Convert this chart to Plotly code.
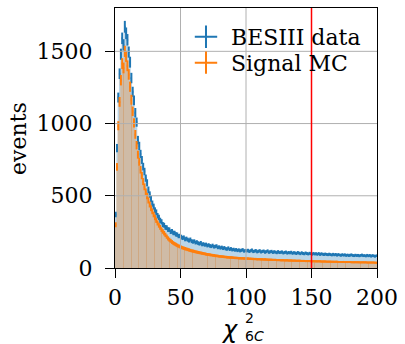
import numpy as np
import plotly.graph_objects as go

# ---------------- data ----------------
BIN_LO, BIN_HI, BIN_W = 0, 200, 1
CUT = 150
XTICKS = [0, 50, 100, 150, 200]
YTICKS = [0, 500, 1000, 1500]

data_counts = [
    370, 830, 1180, 1345, 1480, 1590, 1545, 1670, 1625, 1580,
    1495, 1425, 1315, 1220, 1160, 1075, 1010, 885, 845, 790,
    748, 702, 668, 622, 590, 541, 508, 478, 446, 425,
    400, 386, 362, 350, 330, 320, 301, 296, 281, 279,
    266, 265, 251, 254, 243, 242, 233, 231, 221, 222,
    216, 208, 211, 199, 203, 196, 190, 197, 186, 182,
    185, 176, 179, 172, 168, 174, 163, 166, 160, 163,
    155, 159, 153, 150, 156, 147, 149, 152, 142, 145,
    139, 143, 136, 140, 133, 131, 138, 129, 133, 126,
    129, 124, 127, 121, 125, 119, 123, 126, 117, 121,
    118, 122, 115, 119, 124, 114, 117, 120, 112, 116,
    119, 111, 115, 117, 110, 113, 118, 109, 112, 115,
    108, 112, 110, 106, 113, 107, 109, 111, 104, 108,
    110, 103, 107, 105, 109, 102, 106, 104, 100, 107,
    103, 99, 105, 101, 98, 104, 100, 97, 102, 99,
    96, 101, 97, 99, 95, 100, 94, 98, 96, 93,
    97, 94, 92, 96, 93, 90, 95, 91, 94, 89,
    93, 90, 88, 92, 89, 91, 87, 90, 86, 89,
    91, 87, 85, 89, 86, 88, 84, 87, 90, 85,
    86, 83, 88, 84, 87, 82, 86, 84, 81, 85,
]

mc_counts = [
    300, 700, 985, 1150, 1300, 1415, 1385, 1500, 1465, 1400,
    1340, 1255, 1165, 1085, 1005, 925, 850, 785, 735, 680,
    640, 598, 562, 528, 498, 468, 440, 414, 392, 370,
    350, 330, 312, 296, 281, 266, 253, 241, 229, 217,
    205, 196, 188, 180, 173, 167, 162, 157, 152, 148,
    144, 140, 137, 134, 131, 128, 125, 122, 119, 117,
    115, 112, 110, 108, 106, 104, 102, 100, 98, 96,
    94, 93, 91, 90, 88, 87, 85, 84, 83, 81,
    80, 79, 78, 77, 76, 75, 74, 73, 73, 72,
    71, 70, 70, 69, 68, 68, 67, 67, 66, 66,
    65, 65, 64, 64, 63, 63, 62, 62, 61, 61,
    61, 60, 60, 59, 59, 58, 58, 57, 57, 57,
    56, 56, 56, 55, 55, 55, 54, 54, 54, 53,
    53, 53, 52, 52, 52, 51, 51, 51, 50, 50,
    50, 50, 49, 49, 49, 48, 48, 48, 48, 47,
    47, 47, 47, 46, 46, 46, 46, 45, 45, 45,
    45, 44, 44, 44, 44, 43, 43, 43, 43, 43,
    42, 42, 42, 42, 42, 41, 41, 41, 41, 41,
    40, 40, 40, 40, 40, 40, 39, 39, 39, 39,
    39, 39, 38, 38, 38, 38, 38, 38, 37, 37,
]

labels = ["BESIII data", "Signal MC"]

# ---------------- styles ----------------
BLUE = "#1f77b4"
ORANGE = "#ff7f0e"
FONT = "DejaVu Serif"
FS = 22
L, R, T, B = 115, 24, 7, 76
W, H = 405, 344
PW, PH = W - L - R, H - T - B
YMAX = 1800

edges = np.arange(BIN_LO, BIN_HI + BIN_W, BIN_W)
centers = edges[:-1] + BIN_W / 2
d = np.array(data_counts, dtype=float)
m = np.array(mc_counts, dtype=float)

def px(x):
    return (x - L) / PW

def py(y):
    return (H - B - y) / PH

fig = go.Figure()

# filled histograms
for vals, col in [(d, "rgba(31,119,180,0.3)"), (m, "rgba(255,127,14,0.3)")]:
    fig.add_trace(go.Scatter(
        x=edges, y=np.append(vals, vals[-1]), mode="lines", line_shape="hv",
        line=dict(width=0), fill="tozeroy", fillcolor=col,
        showlegend=False, hoverinfo="skip"))

# rendering seams of the MC bar fill (anti-aliasing pattern in the original)
seam_x = np.arange(6.5, BIN_HI, 5.84)
seam_y = m[seam_x.astype(int)]
fig.add_trace(go.Bar(x=seam_x, y=seam_y, width=0.7,
                     marker=dict(color="rgba(255,127,14,0.3)", line=dict(width=0)),
                     showlegend=False, hoverinfo="skip"))

# error bars
for vals, col in [(d, BLUE), (m, ORANGE)]:
    fig.add_trace(go.Scatter(
        x=centers, y=vals, mode="markers",
        marker=dict(size=1, color="rgba(0,0,0,0)"),
        error_x=dict(type="constant", value=BIN_W / 2, thickness=2, width=0, color=col),
        error_y=dict(type="data", array=np.sqrt(vals), thickness=2, width=0, color=col),
        showlegend=False, hoverinfo="skip"))

# legend proxies (one legend box per entry for matplotlib-like row spacing)
for lab, col, lg in zip(labels, [BLUE, ORANGE], ["legend", "legend2"]):
    fig.add_trace(go.Scatter(
        x=[None], y=[None], mode="markers", name=lab, legend=lg,
        marker=dict(symbol="cross-thin", size=22, line=dict(width=2, color=col))))

# grid (drawn above the fills as in the original)
for v in XTICKS[1:-1]:
    fig.add_shape(type="line", x0=v, x1=v, y0=0, y1=1, xref="x", yref="y domain",
                  line=dict(color="#b0b0b0", width=1), layer="above")
for v in YTICKS[1:]:
    fig.add_shape(type="line", y0=v, y1=v, x0=0, x1=1, yref="y", xref="x domain",
                  line=dict(color="#b0b0b0", width=1), layer="above")

fig.add_vline(x=CUT, line=dict(color="red", width=1.5), layer="above")

axis_common = dict(showline=True, linecolor="black", linewidth=1.2, mirror=True,
                   ticks="outside", ticklen=9, tickwidth=1.2, tickcolor="black",
                   showgrid=False, zeroline=False,
                   tickfont=dict(family=FONT, size=FS, color="black"))

fig.update_xaxes(range=[BIN_LO, BIN_HI], tickvals=XTICKS, ticklabelstandoff=0, **axis_common)
fig.update_yaxes(range=[0, YMAX], tickvals=YTICKS, ticklabelstandoff=8, **axis_common)

leg_common = dict(xanchor="left", yanchor="top", bgcolor="rgba(0,0,0,0)", borderwidth=0,
                  font=dict(family=FONT, size=FS, color="black"),
                  itemsizing="trace", itemwidth=40)

fig.update_layout(
    width=W, height=H, margin=dict(l=L, r=R, t=T, b=B, pad=0),
    plot_bgcolor="white", paper_bgcolor="white",
    font=dict(family=FONT, size=FS, color="black"),
    barmode="overlay", bargap=0,
    legend=dict(x=px(182), y=py(15), **leg_common),
    legend2=dict(x=px(182), y=py(41), **leg_common),
    annotations=[
        dict(text="events", textangle=-90, x=px(17), y=py(138), xref="paper", yref="paper",
             showarrow=False, font=dict(family=FONT, size=FS, color="black"),
             xanchor="center", yanchor="middle"),
        dict(text="<i>χ</i>", x=px(231.5), y=py(330), xref="paper", yref="paper",
             showarrow=False, font=dict(family="DejaVu Sans", size=24, color="black"),
             xanchor="center", yanchor="middle", borderpad=0),
        dict(text="2<br>6<i>C</i>", x=px(246), y=py(327), xref="paper", yref="paper",
             showarrow=False, align="left",
             font=dict(family="DejaVu Sans", size=14, color="black"),
             xanchor="left", yanchor="middle", borderpad=0),
    ],
)

fig.write_html("out.html")
